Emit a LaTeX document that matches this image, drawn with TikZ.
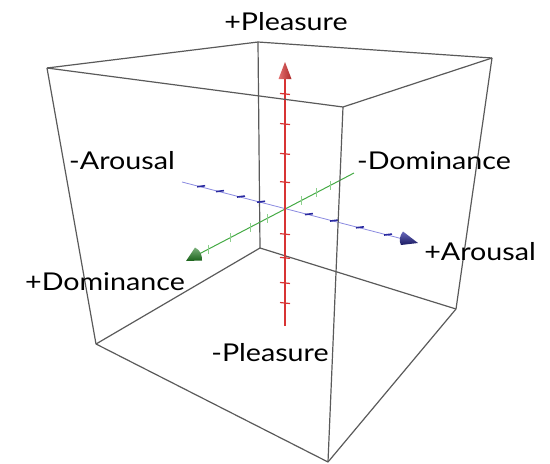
\documentclass[tikz,border=0pt]{standalone}
\usepackage{fontspec}
\setmainfont{Lato}[FakeStretch=1.17]
\usetikzlibrary{calc}
\definecolor{edgegray}{HTML}{5A5A5A}
\definecolor{pred}{HTML}{D83434}
\definecolor{pblue}{HTML}{8A8AE0}
\definecolor{dblue}{HTML}{2A2AA0}
\definecolor{pgreen}{HTML}{44AA44}
\definecolor{lgreen}{HTML}{8ED08E}
\definecolor{dgreen}{HTML}{1F7A1F}
\begin{document}
\begin{tikzpicture}[x=1pt,y=-1pt,
  edge/.style={draw=edgegray,line width=1.2pt,line join=round},
  lbl/.style={font=\fontsize{24.5}{28}\selectfont,inner sep=0pt,anchor=center},
  redax/.style={draw=pred,line width=1.6pt},
  blueax/.style={draw=pblue,line width=0.8pt},
  greenax/.style={draw=pgreen,line width=1pt},
  redtick/.style={draw=pred,line width=1.2pt},
  bluetick/.style={draw=dblue,line width=1.6pt},
  greentick/.style={draw=lgreen,line width=0.9pt}]
\useasboundingbox (0,0) rectangle (550,464);
% cube vertices
\coordinate (TL) at (47,68);
\coordinate (TM) at (258,42);
\coordinate (TR) at (492,58);
\coordinate (TF) at (343,107);
\coordinate (BL) at (96,344);
\coordinate (BB) at (260,248);
\coordinate (BR) at (456,309);
\coordinate (BF) at (328,462);
% back edges
\draw[edge] (TM) -- (BB);
\draw[edge] (BL) -- (BB);
\draw[edge] (BB) -- (BR);
% axes
\coordinate (O) at (285,208);
\coordinate (Pm) at (285,326);
\coordinate (Pp) at (285,62);
\coordinate (Pb) at (285,79);
\coordinate (Am) at (182,182);
\coordinate (Ap) at (418,243);
\coordinate (Ab) at (401,238.5);
\coordinate (Dm) at (354,173);
\coordinate (Dp) at (186,261);
\coordinate (Db) at (200,253.5);
\draw[blueax] (Am) -- (Ab);
\draw[greenax] (Dm) -- (Db);
\foreach \t in {0.081,0.161,0.25,0.335,0.538,0.644,0.754,0.873}
  \draw[bluetick] ($(Am)!\t!(Ap)+(-4,-0.2)$) -- ($(Am)!\t!(Ap)+(4,-1.2)$);
\foreach \t in {0.143,0.226,0.315,0.518,0.619,0.738,0.869}
  \draw[greentick] ($(Dm)!\t!(Dp)+(0,-4.5)$) -- ($(Dm)!\t!(Dp)+(0,4.5)$);
\draw[redax] (Pm) -- (Pb);
\foreach \t in {0.087,0.163,0.258,0.348,0.545,0.652,0.765,0.879}
  \draw[redtick] ($(Pm)!\t!(Pp)+(-5,-0.5)$) -- ($(Pm)!\t!(Pp)+(5,0.5)$);
% arrow heads (cones)
\shade[left color=pred!70!white,right color=pred!80!black] (Pp) -- ($(Pb)+(-6.5,0)$) -- ($(Pb)+(6.5,0)$) -- cycle;
\shade[top color=dblue!70!white,bottom color=dblue!60!black] (Ap) -- ($(Ab)+(2,-7)$) .. controls ($(Ab)+(-2,-1)$) and ($(Ab)+(-2,2)$) .. ($(Ab)+(0,6.5)$) -- cycle;
\shade[top color=dgreen!60!white,bottom color=dgreen!80!black] (Dp) -- ($(Db)+(-5,-6)$) .. controls ($(Db)+(1,-3)$) and ($(Db)+(2,2)$) .. ($(Db)+(2,7)$) -- cycle;
% front and top edges
\draw[edge] (TL) -- (TM);
\draw[edge] (TM) -- (TR);
\draw[edge] (TL) -- (TF);
\draw[edge] (TF) -- (TR);
\draw[edge] (TL) -- (BL);
\draw[edge] (TR) -- (BR);
\draw[edge] (TF) -- (BF);
\draw[edge] (BL) -- (BF);
\draw[edge] (BR) -- (BF);
% labels
\node[lbl] (pp) at (286,22) {+Pleasure};
\node[lbl] (pm) at (270,353) {-Pleasure};
\node[lbl] (am) at (122,161) {-Arousal};
\node[lbl] (ap) at (480,252) {+Arousal};
\node[lbl] (dm) at (434,161) {-Dominance};
\node[lbl] (dp) at (105,282) {+Dominance};
\end{tikzpicture}
\end{document}
